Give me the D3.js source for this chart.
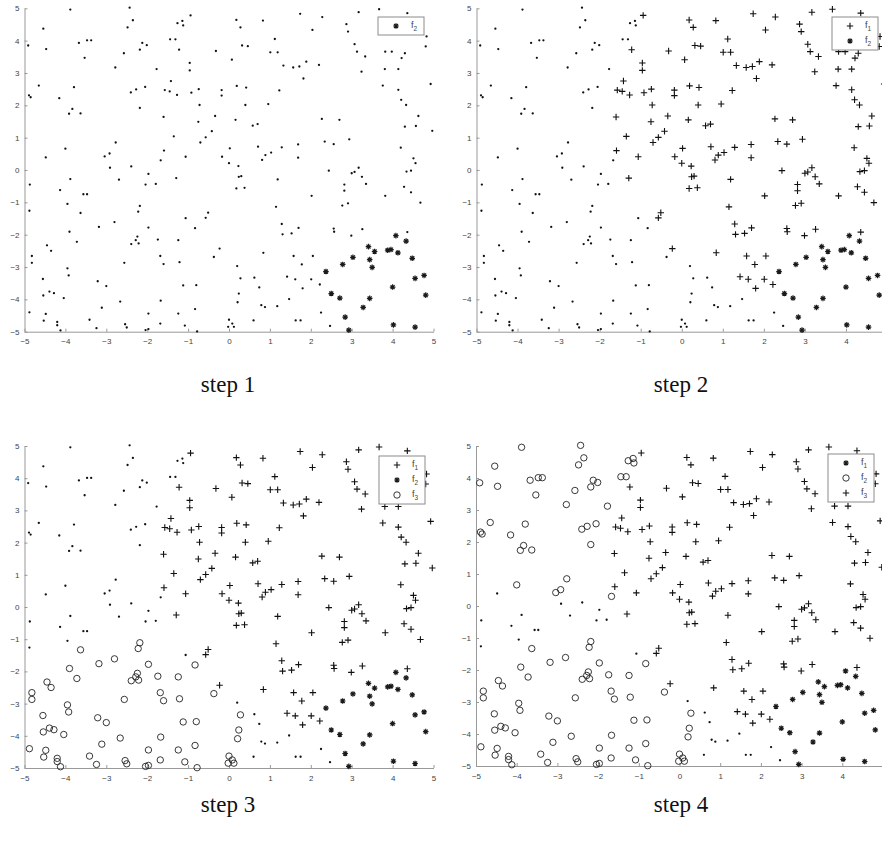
<!DOCTYPE html>
<html lang="en">
<head>
<meta charset="UTF-8">
<title>Clustering steps</title>
<script src="https://d3js.org/d3.v7.min.js"></script>
<style>
  body { margin: 0; background: #fff; }
  svg { display: block; }
  .tick-label { font-family: "Liberation Sans", Arial, sans-serif; font-size: 8px; fill: #444; }
  .legend-label { font-family: "Liberation Sans", Arial, sans-serif; font-size: 9px; fill: #444; }
  .step-label { font-family: "Liberation Serif", "Times New Roman", serif; font-size: 23px; fill: #111; }
</style>
</head>
<body>
<div id="chart"></div>
<script>
// ---- data ----
const stepNames = ["step 1", "step 2", "step 3", "step 4"];
const tickValues = [-5, -4, -3, -2, -1, 0, 1, 2, 3, 4, 5];

// asterisk cluster, bottom right
const stars = [[4.08,-2.03],[4.33,-2.20],[3.41,-2.37],[3.56,-2.52],[3.88,-2.48],[3.96,-2.46],[4.13,-2.56],[4.48,-2.73],
  [3.03,-2.70],[3.44,-2.77],[3.50,-3.01],[2.78,-2.92],[2.37,-3.14],[4.55,-3.35],[4.77,-3.26],[4.00,-3.62],[4.81,-3.87],
  [2.50,-3.82],[2.71,-3.96],[3.44,-3.97],[3.28,-4.25],[2.84,-4.55],[4.02,-4.79],[4.55,-4.86],[2.93,-4.95]];

// plus cluster, found in step 2
const crosses = [[-0.94,4.78],[-1.22,3.72],[-0.32,3.68],[-0.96,3.31],[-0.96,3.08],[-1.42,2.75],[-1.57,2.47],[-1.45,2.43],
  [-1.27,2.32],[-0.92,2.39],[-0.74,2.50],[-0.18,2.47],[-0.18,2.30],[-0.72,2.01],[-1.60,1.64],[-0.34,1.67],[-0.75,1.49],
  [-0.42,1.20],[-0.57,1.01],[-0.70,0.85],[-1.35,1.04],[-1.59,0.60],[-1.06,0.41],[-0.17,0.41],
  [0.18,4.64],[0.28,4.41],[0.83,4.62],[1.74,4.83],[2.28,4.73],[2.04,4.33],[2.87,4.51],[2.91,4.28],[3.17,4.88],[3.67,4.97],
  [4.36,4.85],[1.12,4.05],[0.32,3.85],[0.46,3.83],[1.01,3.64],[1.19,3.64],[3.07,3.89],[3.13,3.66],[3.33,3.51],[0.07,3.41],
  [1.33,3.23],[1.57,3.17],[1.72,3.20],[1.89,3.35],[2.20,3.25],[1.82,2.83],[3.24,3.04],[3.81,3.12],[4.14,3.12],[3.82,3.66],
  [3.98,3.66],[4.22,3.46],[4.30,3.61],[4.83,4.13],[4.81,3.82],[3.76,2.61],[4.14,2.48],[4.21,2.17],[4.33,2.01],[4.63,1.67],
  [4.30,1.34],[4.57,1.36],[0.19,2.60],[0.42,2.55],[1.23,2.46],[0.40,2.01],[0.96,2.04],[0.16,1.55],[0.58,1.37],[0.70,1.42],
  [2.27,1.58],[2.70,1.55],[0.02,0.67],[0.71,0.72],[1.29,0.70],[1.69,0.79],[2.34,0.88],[2.56,0.80],[2.94,0.95],[4.20,0.69],
  [0.00,0.21],[0.23,0.12],[0.81,0.31],[0.89,0.46],[1.03,0.54],[1.69,0.38],[4.51,0.36],[4.56,0.21],[4.34,-0.05],[4.45,-0.02],
  [2.44,-0.02],[3.00,-0.10],[3.07,-0.06],[3.17,0.07],[4.93,2.66],[4.97,1.21],
  [0.24,-0.21],[0.30,-0.19],[0.18,-0.57],[0.38,-0.55],[1.19,-0.29],[1.15,-1.14],[2.02,-0.80],[3.25,-0.21],[3.35,-0.43],
  [2.82,-0.45],[2.82,-0.64],[2.77,-1.10],[2.91,-1.03],[3.82,-0.80],[4.28,-0.52],[4.45,-0.69],[4.68,-1.01],[1.29,-1.67],
  [1.31,-1.99],[1.53,-1.96],[1.70,-1.79],[2.56,-1.81],[2.57,-1.91],[2.99,-2.03],[3.26,-1.83],[4.36,-1.92],[0.84,-2.56],
  [1.58,-2.66],[2.05,-2.66],[1.78,-2.92],[1.42,-3.30],[1.62,-3.38],[2.01,-3.38],[2.22,-3.54],[1.80,-3.66],
  [-1.29,-0.25],[-0.51,-1.32],[-0.57,-1.48],[-0.23,-2.43]];

// circle cluster as found in step 3 (bottom left)
const ringsEarly = [[-3.63,-1.33],[-2.80,-1.61],[-3.18,-1.76],[-3.90,-1.91],[-3.72,-2.22],[-4.45,-2.33],[-4.35,-2.50],
  [-4.82,-2.66],[-4.82,-2.87],[-3.95,-3.04],[-3.92,-3.26],[-4.55,-3.37],[-4.54,-3.88],[-4.39,-3.76],[-4.28,-3.81],
  [-4.04,-3.96],[-4.88,-4.40],[-4.48,-4.45],[-4.53,-4.66],[-4.20,-4.70],[-4.20,-4.80],[-4.12,-4.96],[-3.21,-3.44],
  [-3.00,-3.59],[-3.11,-4.26],[-3.41,-4.63],[-3.24,-4.89],[-2.66,-4.07],[-2.56,-2.87],[-2.54,-4.77],[-2.50,-4.87],
  [-2.04,-4.95],[-1.97,-4.92],[-1.97,-4.44],[-2.22,-1.29],[-2.18,-1.11],[-1.97,-1.78],[-2.39,-2.29],[-2.28,-2.17],
  [-2.24,-2.06],[-2.21,-2.27],[-1.74,-2.15],[-1.68,-2.66],[-1.60,-2.91],[-1.24,-2.17],[-1.21,-2.85],[-1.12,-3.57],
  [-0.80,-3.56],[-1.67,-4.04],[-1.24,-4.44],[-1.68,-4.75],[-1.08,-4.81],[-0.83,-4.30],[-0.78,-4.99],[-0.83,-1.80],
  [-0.37,-2.69],[0.28,-3.35],[0.24,-3.82],[0.21,-4.09],[0.00,-4.63],[-0.02,-4.85],[0.08,-4.75],[0.12,-4.85]];

// points that join the circle cluster only in step 4 (upper left)
const ringsLate = [[-4.91,3.85],[-4.54,4.37],[-4.47,3.74],[-3.88,4.96],[-3.67,3.93],[-3.47,4.01],[-3.37,4.01],[-3.53,3.47],
  [-4.65,2.61],[-4.89,2.31],[-4.85,2.25],[-4.15,2.22],[-3.79,2.56],[-3.83,1.89],[-3.91,1.74],[-3.63,1.75],[-4.00,0.66],
  [-2.78,3.17],[-2.57,3.61],[-2.48,4.41],[-2.43,5.02],[-2.35,4.63],[-2.18,3.72],[-2.12,3.93],[-2.01,3.86],[-2.40,2.40],
  [-2.27,2.49],[-2.05,2.57],[-2.18,1.92],[-1.77,3.12],[-1.44,4.04],[-1.31,4.04],[-1.26,4.54],[-1.14,4.61],[-1.12,4.47],
  [-2.77,0.85],[-3.04,0.42],[-2.92,0.51],[-1.67,0.30]];

// points never assigned
const dots = [[-4.48,0.39],[-2.91,0.07],[-2.39,0.11],[-1.97,-0.12],[-4.87,-0.45],[-3.88,-0.28],[-4.13,-0.62],[-3.56,-0.75],
  [-3.47,-0.75],[-3.95,-1.05],[-4.88,-1.26],[-2.69,-0.30],[-2.04,-0.45],[-1.79,-0.43],[-1.06,-1.49],
  [0.20,-2.97],[0.62,-3.33],[0.74,-3.63],[0.79,-4.18],[0.88,-4.24],[1.18,-4.21],[1.47,-3.99],[2.25,-4.41],[0.60,-4.65],
  [1.63,-4.65],[1.75,-4.65],[2.47,-4.82]];

// marker of each group at each step
const groups = [
  { pts: dots,       marks: ["dot", "dot", "dot", "dot"] },
  { pts: ringsLate,  marks: ["dot", "dot", "dot", "ring"] },
  { pts: ringsEarly, marks: ["dot", "dot", "ring", "ring"] },
  { pts: crosses,    marks: ["dot", "cross", "cross", "cross"] },
  { pts: stars,      marks: ["star", "star", "star", "star"] }
];

const legendEntries = [
  [["star", "2"]],
  [["cross", "1"], ["star", "2"]],
  [["cross", "1"], ["star", "2"], ["ring", "3"]],
  [["star", "1"], ["ring", "2"], ["cross", "3"]]
];

// ---- layout ----
const W = 882, H = 851;
// right-hand panels run past the page edge, so their last x label is not shown
const panels = [
  { xr: [24.5, 433.5], yr: [331.7, 8.3], leg: [378, 17],  lab: [228, 392], xt: tickValues },
  { xr: [476.5, 887],  yr: [331.7, 8.3], leg: [832, 17],  lab: [681, 392], xt: tickValues.slice(0, -1) },
  { xr: [24.5, 433.5], yr: [768, 446],   leg: [379, 456], lab: [228, 812], xt: tickValues },
  { xr: [476, 883],    yr: [766, 446],   leg: [828, 454], lab: [681, 812], xt: tickValues.slice(0, -1) }
];

const svg = d3.select("#chart").append("svg").attr("width", W).attr("height", H);

function drawMark(g, type, x, y) {
  if (type === "dot") {
    g.append("circle").attr("cx", x).attr("cy", y).attr("r", 1.15).attr("fill", "#111");
  } else if (type === "ring") {
    g.append("circle").attr("cx", x).attr("cy", y).attr("r", 3.2)
      .attr("fill", "none").attr("stroke", "#222").attr("stroke-width", 0.9);
  } else if (type === "cross") {
    const s = 3.2;
    g.append("path").attr("d", `M${x - s},${y}H${x + s}M${x},${y - s}V${y + s}`)
      .attr("stroke", "#111").attr("stroke-width", 1.1).attr("fill", "none");
  } else if (type === "star") {
    const s = 2.8, d = 2.0;
    g.append("path")
      .attr("d", `M${x - s},${y}H${x + s}M${x},${y - s}V${y + s}M${x - d},${y - d}L${x + d},${y + d}M${x - d},${y + d}L${x + d},${y - d}`)
      .attr("stroke", "#1a1a1a").attr("stroke-width", 1.2).attr("fill", "none");
  }
}

panels.forEach((p, i) => {
  const x = d3.scaleLinear().domain([-5, 5]).range(p.xr);
  const y = d3.scaleLinear().domain([-5, 5]).range(p.yr);
  const g = svg.append("g");

  // axes (left and bottom only, ticks inward)
  const ax = g.append("g").attr("transform", `translate(0,${p.yr[0]})`)
    .call(d3.axisBottom(x).tickValues(p.xt).tickSizeInner(-3).tickSizeOuter(0).tickPadding(7));
  const ay = g.append("g").attr("transform", `translate(${p.xr[0]},0)`)
    .call(d3.axisLeft(y).tickValues(tickValues).tickSizeInner(-3).tickSizeOuter(0).tickPadding(5));
  [ax, ay].forEach(a => {
    a.select(".domain").attr("stroke", "#999");
    a.selectAll(".tick line").attr("stroke", "#999");
    a.selectAll(".tick text").attr("class", "tick-label").attr("fill", null);
    a.attr("font-size", null).attr("font-family", null);
  });

  // markers
  groups.forEach(grp => {
    grp.pts.forEach(([vx, vy]) => drawMark(g, grp.marks[i], x(vx), y(vy)));
  });

  // legend
  const ents = legendEntries[i];
  const lg = g.append("g").attr("transform", `translate(${p.leg[0]},${p.leg[1]})`);
  lg.append("rect").attr("width", 46).attr("height", 18 + 15 * (ents.length - 1))
    .attr("fill", "#fff").attr("stroke", "#8c8c8c").attr("stroke-width", 1);
  ents.forEach(([type, sub], k) => {
    const cy = 9 + 15 * k;
    drawMark(lg, type, 18, cy);
    const t = lg.append("text").attr("class", "legend-label").attr("x", 33).attr("y", cy + 2);
    t.append("tspan").text("f");
    t.append("tspan").attr("dy", 3).attr("font-size", "6.5px").text(sub);
  });

  svg.append("text").attr("class", "step-label").attr("x", p.lab[0]).attr("y", p.lab[1])
    .attr("text-anchor", "middle").text(stepNames[i]);
});
</script>
</body>
</html>
